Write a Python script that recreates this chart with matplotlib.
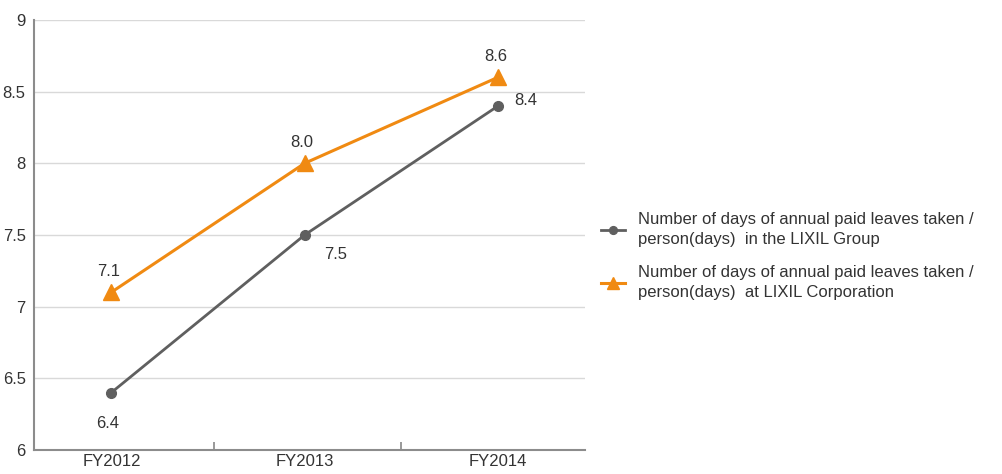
import matplotlib.pyplot as plt

years = ["FY2012", "FY2013", "FY2014"]
group_days = [6.4, 7.5, 8.4]
corp_days = [7.1, 8.0, 8.6]
group_label = "Number of days of annual paid leaves taken /\nperson(days)  in the LIXIL Group"
corp_label = "Number of days of annual paid leaves taken /\nperson(days)  at LIXIL Corporation"

plt.rcParams['font.family'] = ['Liberation Sans Narrow', 'Liberation Sans', 'DejaVu Sans']

gray = "#5f5f5f"
orange = "#f08a12"
text_color = "#333333"

fig = plt.figure(figsize=(10.02, 4.74), dpi=100)
ax = fig.add_axes([0.034, 0.051, 0.55, 0.907])

x = list(range(len(years)))
line_g, = ax.plot(x, group_days, color=gray, lw=2, marker="o", ms=7, zorder=3)
line_c, = ax.plot(x, corp_days, color=orange, lw=2.2, marker="^", ms=11, zorder=3)

# data labels
fs = 12
ax.annotate(f"{group_days[0]:.1f}", (x[0], group_days[0]), xytext=(-3, -22), textcoords="offset points",
            ha="center", va="center", fontsize=fs, color=text_color)
ax.annotate(f"{group_days[1]:.1f}", (x[1], group_days[1]), xytext=(22, -14), textcoords="offset points",
            ha="center", va="center", fontsize=fs, color=text_color)
ax.annotate(f"{group_days[2]:.1f}", (x[2], group_days[2]), xytext=(20, 4), textcoords="offset points",
            ha="center", va="center", fontsize=fs, color=text_color)
for xi, v in zip(x, corp_days):
    ax.annotate(f"{v:.1f}", (xi, v), xytext=(-2, 15), textcoords="offset points",
                ha="center", va="center", fontsize=fs, color=text_color)

ax.set_xlim(-0.4, 2.45)
ax.set_ylim(6, 9)
ax.set_yticks([6, 6.5, 7, 7.5, 8, 8.5, 9])
ax.set_yticklabels(["6", "6.5", "7", "7.5", "8", "8.5", "9"])
ax.set_xticks(x)
ax.set_xticklabels(years)
ax.set_xticks([0.53, 1.5], minor=True)
ax.tick_params(axis="x", which="major", length=0, labelsize=12, labelcolor=text_color, pad=3)
ax.tick_params(axis="x", which="minor", direction="in", length=6, color="#888888", width=1.2)
ax.tick_params(axis="y", length=0, labelsize=12, labelcolor=text_color, pad=6)

ax.grid(axis="y", color="#d9d9d9", lw=1)
ax.set_axisbelow(True)
for s in ["top", "right"]:
    ax.spines[s].set_visible(False)
for s in ["left", "bottom"]:
    ax.spines[s].set_color("#8c8c8c")
    ax.spines[s].set_linewidth(1.5)

leg = fig.legend([line_g, line_c], [group_label, corp_label], loc="center left",
                 bbox_to_anchor=(0.585, 0.46), frameon=False, fontsize=12, labelcolor=text_color,
                 handlelength=1.4, handletextpad=0.8, labelspacing=1.1, markerscale=0.8)
for t in leg.get_texts():
    t.set_linespacing(1.4)

fig.savefig("out.png", dpi=100)
